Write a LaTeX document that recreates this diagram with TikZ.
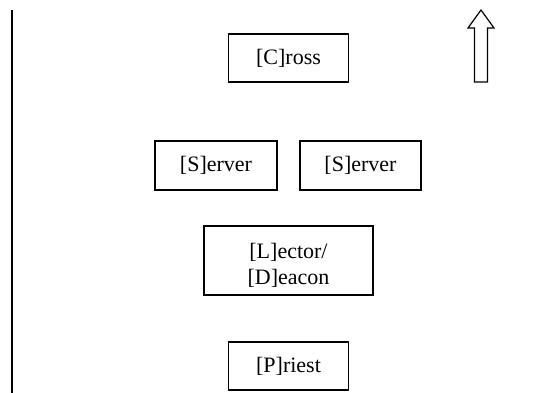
\documentclass[tikz,border=0pt]{standalone}
\usepackage{fontspec}
\setmainfont{Liberation Serif}
\begin{document}
\begin{tikzpicture}[x=1pt,y=-1pt,
  rolebox/.style={draw=black,line width=1.5pt,fill=white,inner sep=0pt,
    align=center,font=\fontsize{22}{26}\selectfont},
  roletext/.style={inner sep=0pt,align=center,font=\fontsize{22}{26}\selectfont},
  edge/.style={draw=black,line width=1.5pt}]
\useasboundingbox (0,0) rectangle (557,393);
% aisle line
\coordinate (lt) at (12,10);
\coordinate (lb) at (12,393);
\draw[edge] (lt) -- (lb);
% boxes
\node[rolebox,minimum width=120pt,minimum height=48pt] (cross) at (288.5,58) {[C]ross};
\node[rolebox,minimum width=122pt,minimum height=49pt] (server1) at (216,165.5) {[S]erver};
\node[rolebox,minimum width=121pt,minimum height=49pt] (server2) at (360.5,165.5) {[S]erver};
\node[rolebox,minimum width=169pt,minimum height=69pt] (lector) at (288.5,260.5) {};
\node[roletext] (lectortext) at ([yshift=-5pt]lector.center) {[L]ector/\\{}[D]eacon};
\node[rolebox,minimum width=120pt,minimum height=48pt] (priest) at (288.5,366) {[P]riest};
% direction arrow
\draw[line width=1.2pt,line join=miter,fill=white]
  (481,10) -- (494,28) -- (487.5,28) -- (487.5,82) -- (474.5,82) -- (474.5,28) -- (468,28) -- cycle;
\end{tikzpicture}
\end{document}
